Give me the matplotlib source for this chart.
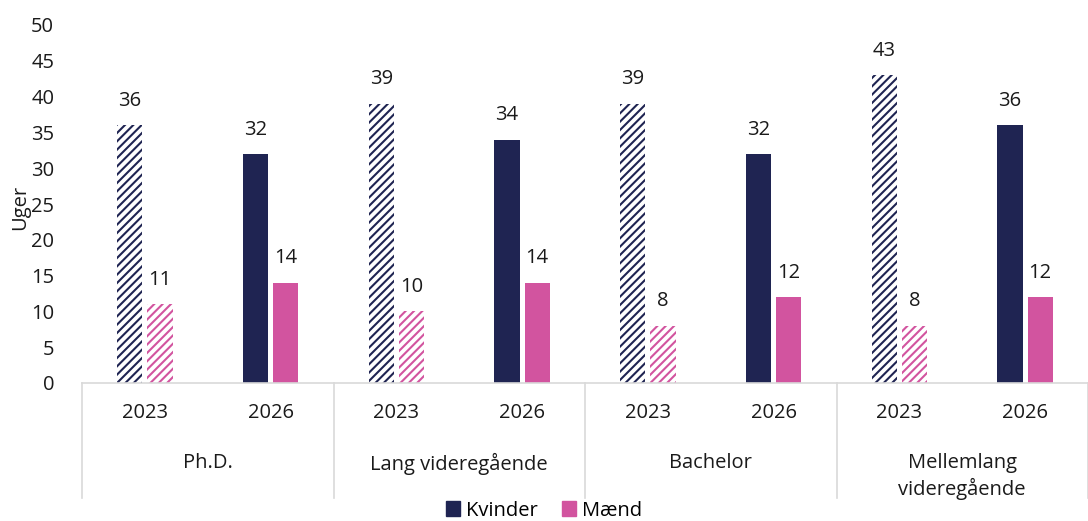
import matplotlib.pyplot as plt
import numpy as np
from matplotlib.patches import Patch

# data
groups = ["Ph.D.", "Lang videregående", "Bachelor", "Mellemlang\nvideregående"]
years = ["2023", "2026"]
kvinder_2023 = [36, 39, 39, 43]
maend_2023 = [11, 10, 8, 8]
kvinder_2026 = [32, 34, 32, 36]
maend_2026 = [14, 14, 12, 12]

navy = "#1f2452"
pink = "#d2549f"
txt = "#1a1a1a"
plt.rcParams['font.family'] = ['Open Sans', 'DejaVu Sans']
plt.rcParams['hatch.linewidth'] = 1.5
fs = 14.5

fig = plt.figure(figsize=(10.88, 5.21), dpi=100)
ax = fig.add_axes([82 / 1088, 1 - 383 / 521, 1006 / 1088, 358 / 521])

n = len(groups)
slots = np.arange(2 * n)  # one slot per (group, year)
w = 0.2
gap = 0.02

for i in range(n):
    pairs = [(kvinder_2023[i], maend_2023[i]), (kvinder_2026[i], maend_2026[i])]
    for j, (kv, ma) in enumerate(pairs):
        x = slots[2 * i + j]
        if j == 0:
            ax.bar(x - w / 2 - gap, kv, w, facecolor="white", edgecolor=navy, hatch="////", linewidth=0)
            ax.bar(x + w / 2 + gap, ma, w, facecolor="white", edgecolor=pink, hatch="////", linewidth=0)
        else:
            ax.bar(x - w / 2 - gap, kv, w, color=navy)
            ax.bar(x + w / 2 + gap, ma, w, color=pink)
        ax.text(x - w / 2 - gap, kv + 2.0, str(kv), ha="center", va="bottom", fontsize=fs, color=txt)
        ax.text(x + w / 2 + gap, ma + 2.0, str(ma), ha="center", va="bottom", fontsize=fs, color=txt)

ax.set_xlim(-0.5, 2 * n - 0.5)
ax.set_ylim(0, 50)
ax.set_yticks(range(0, 51, 5))
ax.tick_params(axis="y", length=0, labelsize=fs, pad=20, colors=txt)
ax.set_xticks([])
for s in ["top", "right", "left"]:
    ax.spines[s].set_visible(False)
ax.spines["bottom"].set_color("#d9d9d9")
ax.spines["bottom"].set_linewidth(1.2)
ax.set_ylabel("Uger", fontsize=fs, color=txt)
ax.yaxis.set_label_coords(-52 / 1006, 0.49)

# category axis labels
trans = ax.get_xaxis_transform()
for k in slots:
    ax.text(k, -0.083, years[k % 2], transform=trans, ha="center", va="center", fontsize=fs, color=txt)
for i in range(n):
    ax.text(2 * i + 0.5, -0.195, groups[i], transform=trans, ha="center", va="top", fontsize=fs,
            color=txt, linespacing=1.3)
for i in range(n + 1):
    ax.plot([2 * i - 0.5, 2 * i - 0.5], [0, -0.32], transform=trans, color="#d9d9d9", lw=1.2, clip_on=False)

handles = [Patch(color=navy, label="Kvinder"), Patch(color=pink, label="Mænd")]
fig.legend(handles=handles, loc="lower center", bbox_to_anchor=(0.5, -0.034), ncol=2, frameon=False,
           fontsize=fs, handlelength=0.7, handleheight=0.7, handletextpad=0.3, columnspacing=1.2)

fig.savefig("out.png", dpi=100)
